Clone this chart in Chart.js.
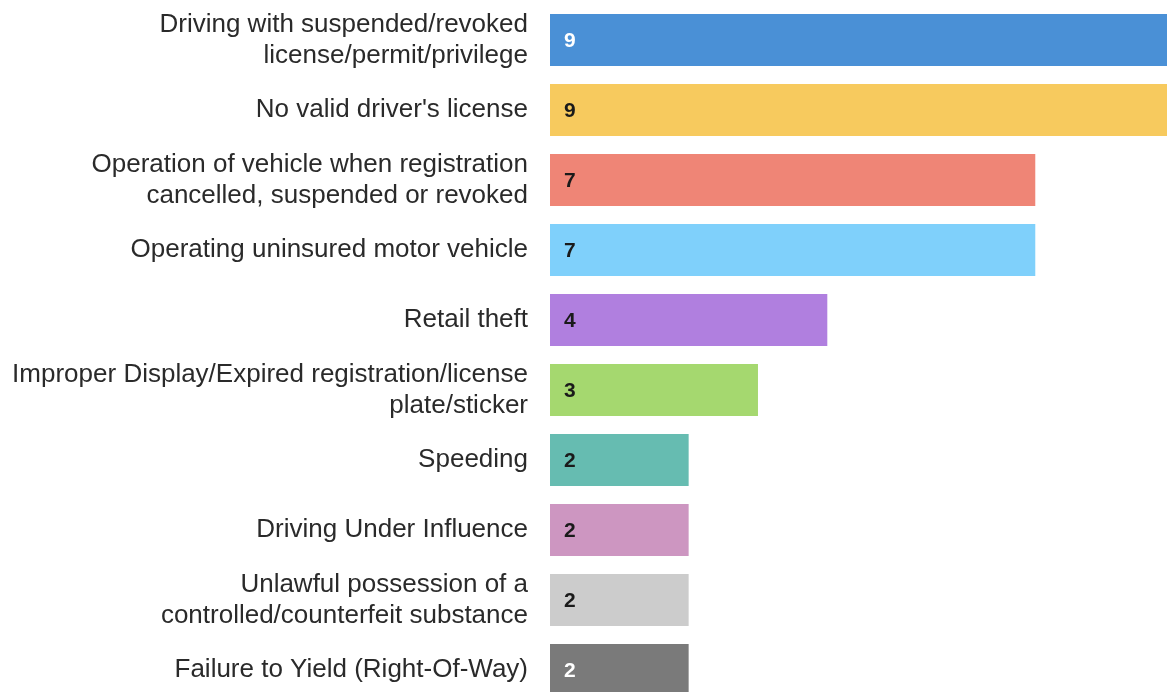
<!DOCTYPE html>
<html>
<head>
<meta charset="utf-8">
<script src="https://cdn.jsdelivr.net/npm/chart.js@4"></script>
<style>
html,body{margin:0;padding:0;background:#fff;overflow:hidden;}
#wrap{position:relative;width:1167px;height:705px;}
</style>
</head>
<body>
<div id="wrap"><canvas id="c"></canvas></div>
<script>
const categories = [
  ["Driving with suspended/revoked", "license/permit/privilege"],
  "No valid driver's license",
  ["Operation of vehicle when registration", "cancelled, suspended or revoked"],
  "Operating uninsured motor vehicle",
  "Retail theft",
  ["Improper Display/Expired registration/license", "plate/sticker"],
  "Speeding",
  "Driving Under Influence",
  ["Unlawful possession of a", "controlled/counterfeit substance"],
  "Failure to Yield (Right-Of-Way)"
];
const counts = [9, 9, 7, 7, 4, 3, 2, 2, 2, 2];
const barColors = ["#4a90d6", "#f7ca5e", "#ef8576", "#7fd0fb", "#b07fdf", "#a5d86f", "#66bcb1", "#cd96c1", "#cccccc", "#7a7a7a"];
const valueLabelColors = ["#ffffff", "#1a1a1a", "#1a1a1a", "#1a1a1a", "#1a1a1a", "#1a1a1a", "#1a1a1a", "#1a1a1a", "#1a1a1a", "#ffffff"];

const valueLabels = {
  id: 'valueLabels',
  afterDatasetsDraw(chart) {
    const ctx = chart.ctx;
    const meta = chart.getDatasetMeta(0);
    ctx.save();
    ctx.font = 'bold 21px "Liberation Sans", Arial, sans-serif';
    ctx.textAlign = 'left';
    ctx.textBaseline = 'middle';
    meta.data.forEach((bar, i) => {
      ctx.fillStyle = valueLabelColors[i];
      ctx.fillText(String(counts[i]), bar.base + 14, bar.y + 1);
    });
    ctx.restore();
  }
};

new Chart(document.getElementById('c'), {
  type: 'bar',
  data: {
    labels: categories,
    datasets: [{
      data: counts,
      backgroundColor: barColors,
      borderWidth: 0,
      barPercentage: 52/70,
      categoryPercentage: 1
    }]
  },
  options: {
    indexAxis: 'y',
    responsive: true,
    maintainAspectRatio: false,
    animation: false,
    layout: { padding: { top: 5, right: 0, bottom: 0, left: 0 } },
    plugins: { legend: { display: false }, tooltip: { enabled: false } },
    scales: {
      x: {
        display: false,
        min: 0,
        max: 8.9
      },
      y: {
        grid: { display: false, drawTicks: false },
        border: { display: false },
        ticks: {
          color: '#2a2a2a',
          padding: 22,
          font: { family: '"Liberation Sans", Arial, sans-serif', size: 26, lineHeight: 1.2 }
        },
        afterFit(scale) {
          scale.width = 550;
          scale.paddingTop = 0;
          scale.paddingBottom = 0;
        }
      }
    }
  },
  plugins: [valueLabels]
});
</script>
</body>
</html>
